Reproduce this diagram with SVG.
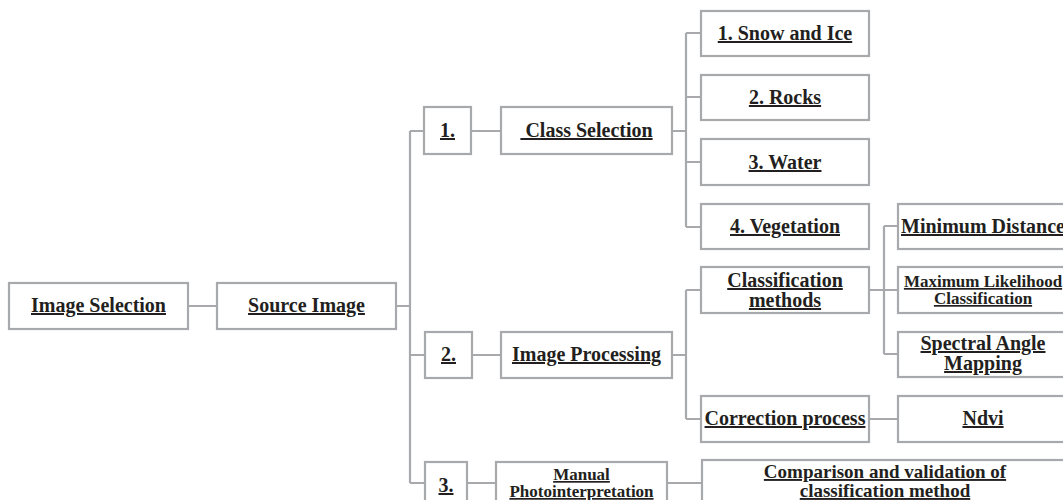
<svg xmlns="http://www.w3.org/2000/svg" width="1063" height="500" viewBox="0 0 1063 500">
<style>
.b{fill:#fff;stroke:#a7a9ac;stroke-width:2.2}
.c{fill:none;stroke:#a7a9ac;stroke-width:2.2}
text{font-family:"Liberation Serif","Times New Roman",serif;font-weight:bold;fill:#231f20;text-anchor:middle;text-decoration:underline;white-space:pre}
.f20{font-size:20px}
.f19{font-size:19px}
.f17{font-size:17px}
</style>
<rect width="1063" height="500" fill="#fff"/>
<g id="connectors">
<path class="c" d="M188 306H217M396 306H410M410 131V483M410 131H424M410 355H425M410 483H425"/>
<path class="c" d="M471 131H501M672 131H686M686 33V227M686 33H701M686 97H701M686 162H701M686 227H701"/>
<path class="c" d="M472 355H501M672 355H686M686 290V419M686 290H701M686 419H701"/>
<path class="c" d="M869 290H884M884 226V354M884 226H898M884 290H898M884 354H898"/>
<path class="c" d="M869 419H898M467 483H496M667 483H702"/>
</g>
<g id="n-image-selection"><rect class="b" x="9" y="283" width="179" height="46"/><text class="f20" x="98.5" y="312">Image Selection</text></g>
<g id="n-source-image"><rect class="b" x="217" y="283" width="179" height="46"/><text class="f20" x="306.5" y="312">Source Image</text></g>
<g id="n-1"><rect class="b" x="424" y="107" width="47" height="47"/><text class="f20" x="447.5" y="137">1.</text></g>
<g id="n-class-selection"><rect class="b" x="501" y="107" width="171" height="47"/><text class="f20" x="586.5" y="137"> Class Selection</text></g>
<g id="n-snow"><rect class="b" x="701" y="11" width="168" height="45"/><text class="f20" x="785" y="40">1. Snow and Ice</text></g>
<g id="n-rocks"><rect class="b" x="701" y="75" width="168" height="45"/><text class="f20" x="785" y="104">2. Rocks</text></g>
<g id="n-water"><rect class="b" x="701" y="139" width="168" height="46"/><text class="f20" x="785" y="169">3. Water</text></g>
<g id="n-vegetation"><rect class="b" x="701" y="204" width="168" height="45"/><text class="f20" x="785" y="233">4. Vegetation</text></g>
<g id="n-2"><rect class="b" x="425" y="332" width="47" height="46"/><text class="f20" x="448.5" y="361">2.</text></g>
<g id="n-image-processing"><rect class="b" x="501" y="332" width="171" height="46"/><text class="f20" x="586.5" y="361">Image Processing</text></g>
<g id="n-classification-methods"><rect class="b" x="701" y="267" width="168" height="46"/><text class="f20" x="785" y="287">Classification</text><text class="f20" x="785" y="307">methods</text></g>
<g id="n-correction"><rect class="b" x="701" y="396" width="168" height="46"/><text class="f20" x="785" y="425">Correction process</text></g>
<g id="n-minimum-distance"><rect class="b" x="898" y="204" width="170" height="45"/><text class="f20" x="983" y="233">Minimum Distance</text></g>
<g id="n-maximum-likelihood"><rect class="b" x="898" y="267" width="170" height="46"/><text class="f17" x="983" y="287">Maximum Likelihood</text><text class="f17" x="983" y="304">Classification</text></g>
<g id="n-spectral"><rect class="b" x="898" y="332" width="170" height="45"/><text class="f20" x="983" y="350">Spectral Angle</text><text class="f20" x="983" y="370">Mapping</text></g>
<g id="n-ndvi"><rect class="b" x="898" y="396" width="170" height="46"/><text class="f20" x="983" y="425">Ndvi</text></g>
<g id="n-3"><rect class="b" x="425" y="462" width="42" height="44"/><text class="f20" x="446" y="492">3.</text></g>
<g id="n-manual"><rect class="b" x="496" y="462" width="171" height="44"/><text class="f17" x="581.5" y="480">Manual</text><text class="f17" x="581.5" y="497">Photointerpretation</text></g>
<g id="n-comparison"><rect class="b" x="702" y="460" width="366" height="46"/><text class="f19" x="885" y="478">Comparison and validation of</text><text class="f19" x="885" y="497">classification method</text></g>
</svg>
